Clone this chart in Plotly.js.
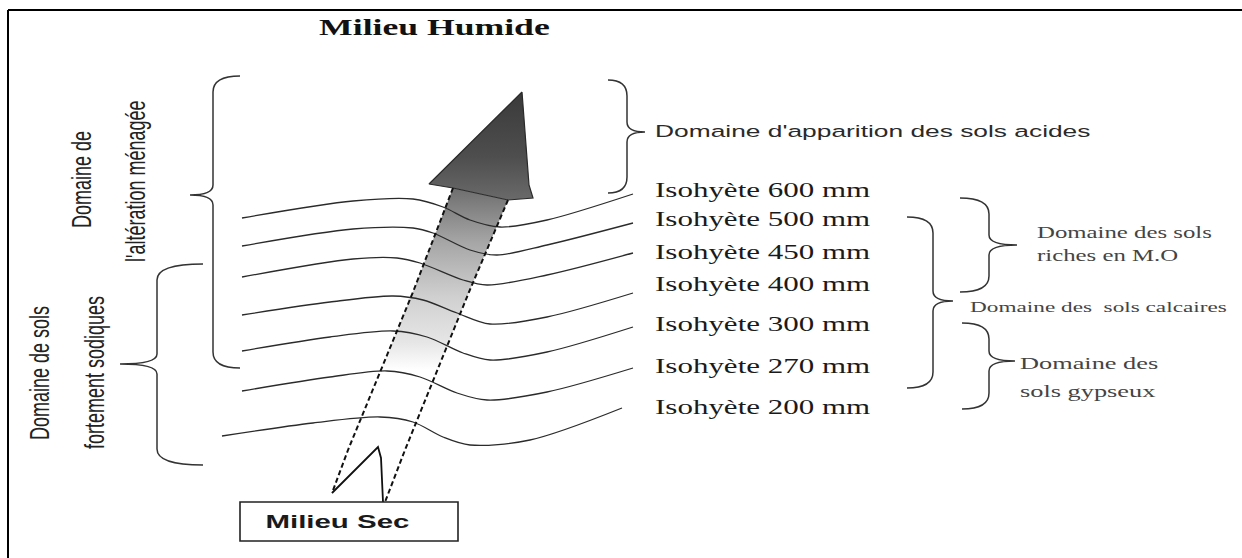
<!DOCTYPE html>
<html>
<head>
<meta charset="utf-8">
<script src="https://cdn.plot.ly/plotly-3.0.1.min.js"></script>
<style>
  html, body { margin: 0; padding: 0; background: #fff; }
  #chart { width: 1242px; height: 558px; }
</style>
</head>
<body>
<div id="chart"></div>
<script>
// ---------------- data ----------------
const isohyetValues = [600, 500, 450, 400, 300, 270, 200];
const isohyetLabels = isohyetValues.map(v => 'Isohyète ' + v + ' mm');
const isohyetLabelY = [190, 219, 252, 284, 324, 366, 407];

// isohyet curves (diagram coordinates)
const curveX = [
  [242, 353, 413, 443, 470, 500, 547, 633],
  [242, 353, 413, 433, 470, 497, 547, 633],
  [242, 353, 397, 420, 463, 487, 547, 633],
  [242, 330, 393, 423, 457, 490, 547, 633],
  [242, 330, 393, 427, 463, 490, 547, 633],
  [242, 330, 387, 420, 457, 487, 547, 633],
  [222, 313, 380, 413, 443, 470, 530, 622]
];
const curveY = [
  [218, 201, 199, 207, 220, 227, 220, 194],
  [246, 229, 228, 233, 250, 255, 245, 223],
  [277, 259, 258, 263, 280, 285, 275, 253],
  [315, 302, 296, 300, 313, 324, 317, 293],
  [351, 337, 331, 337, 353, 360, 352, 327],
  [391, 377, 371, 377, 393, 400, 392, 368],
  [436, 423, 417, 422, 437, 445, 440, 408]
];

// arrow (Milieu Sec -> Milieu Humide)
const headX = [522, 529, 533, 508, 453, 429, 522];
const headY = [92, 185, 198, 200, 188, 184, 92];
const shaftLeftX = [453, 413, 348, 332];
const shaftLeftY = [188, 292, 450, 493];
const shaftRightX = [508, 469, 405, 385];
const shaftRightY = [200, 292, 450, 502];
const breakX = [332, 378, 381, 383];
const breakY = [493, 447, 458, 502];

// braces: [end x, spine x, tip x, top y, tip y, bottom y]
const braceNames = ['altération', 'sodiques', 'acides', 'MO', 'calcaires', 'gypseux'];
const braceEndX = [240, 203, 608, 960, 907, 962];
const braceSpineX = [213, 157, 627, 989, 933, 989];
const braceTipX = [190, 120, 645, 1017, 953, 1015];
const braceTopY = [76, 264, 80, 198, 217, 323];
const braceTipY = [195, 364, 132, 245, 301, 361];
const braceBotY = [368, 465, 193, 292, 388, 409];

// texts
const titleHumide = 'Milieu Humide';
const titleSec = 'Milieu Sec';
const leftTexts = ['Domaine de', "l'altération ménagée", 'Domaine de sols', 'fortement sodiques'];
const acidesText = "Domaine d'apparition des sols acides";
const moTexts = ['Domaine des sols', 'riches en M.O'];
const calcText = 'Domaine des  sols calcaires';
const gypsTexts = ['Domaine des', 'sols gypseux'];

// ---------------- drawing ----------------
const STRETCH = 1.55;
const SANS = 'Liberation Sans, Arial, sans-serif';
const SERIF = 'Liberation Serif, Times New Roman, serif';

const polyShaftX = shaftLeftX.concat(breakX.slice(1), shaftRightX.slice().reverse());
const polyShaftY = shaftLeftY.concat(breakY.slice(1), shaftRightY.slice().reverse());

const traces = [];
traces.push({
  type: 'scatter', mode: 'lines', x: polyShaftX, y: polyShaftY,
  fill: 'toself', line: {width: 0, color: 'rgba(0,0,0,0)'},
  fillgradient: {type: 'vertical', start: 188, stop: 370,
    colorscale: [[0, '#6e6e6e'], [0.3, '#a6a6a6'], [0.6, '#d0d0d0'], [0.85, '#e6e6e6'], [1, '#ffffff']]},
  hoverinfo: 'skip'
});
traces.push({
  type: 'scatter', mode: 'lines', x: headX, y: headY,
  fill: 'toself', line: {width: 1.2, color: '#2a2a2a'},
  fillgradient: {type: 'vertical', start: 92, stop: 200,
    colorscale: [[0, '#3a3a3a'], [0.6, '#4e4e4e'], [1, '#6a6a6a']]},
  hoverinfo: 'skip'
});
for (let i = 0; i < curveX.length; i++) {
  traces.push({
    type: 'scatter', mode: 'lines', x: curveX[i], y: curveY[i],
    name: isohyetLabels[i],
    line: {shape: 'spline', smoothing: 0.9, width: 1.3, color: '#2b2b2b'},
    hoverinfo: 'skip'
  });
}
traces.push({type: 'scatter', mode: 'lines', x: shaftLeftX, y: shaftLeftY,
  line: {width: 2, color: '#111', dash: '5px,3px'}, hoverinfo: 'skip'});
traces.push({type: 'scatter', mode: 'lines', x: shaftRightX, y: shaftRightY,
  line: {width: 2, color: '#111', dash: '5px,3px'}, hoverinfo: 'skip'});
traces.push({type: 'scatter', mode: 'lines', x: breakX, y: breakY,
  line: {width: 1.8, color: '#111'}, hoverinfo: 'skip'});

function bracePath(xe, xv, xt, yt, ym, yb) {
  const rc = 16, rt = 10;
  return 'M' + xe + ',' + yt + ' Q' + xv + ',' + yt + ' ' + xv + ',' + (yt + rc) +
    ' L' + xv + ',' + (ym - rt) + ' Q' + xv + ',' + ym + ' ' + xt + ',' + ym +
    ' Q' + xv + ',' + ym + ' ' + xv + ',' + (ym + rt) +
    ' L' + xv + ',' + (yb - rc) + ' Q' + xv + ',' + yb + ' ' + xe + ',' + yb;
}

const shapes = [];
for (let i = 0; i < braceNames.length; i++) {
  shapes.push({type: 'path', xref: 'x', yref: 'y',
    path: bracePath(braceEndX[i], braceSpineX[i], braceTipX[i], braceTopY[i], braceTipY[i], braceBotY[i]),
    line: {color: '#333', width: 1.5}});
}
// Milieu Sec box
shapes.push({type: 'rect', xref: 'x', yref: 'y', x0: 240, x1: 458, y0: 502, y1: 541,
  line: {color: '#222', width: 1.6}, fillcolor: '#fff', layer: 'above'});
// frame lines
shapes.push({type: 'line', xref: 'x', yref: 'y', x0: 8, x1: 1242, y0: 10, y1: 10, line: {color: '#000', width: 2}});
shapes.push({type: 'line', xref: 'x', yref: 'y', x0: 8, x1: 8, y0: 10, y1: 558, line: {color: '#000', width: 2}});

const annotations = [];
function addText(text, x, y, opts) {
  annotations.push(Object.assign({
    text: text, x: x, y: y, xref: 'x', yref: 'y', showarrow: false,
    xanchor: 'center', yanchor: 'middle'
  }, opts));
}
addText(titleHumide, 434, 27, {font: {family: SERIF, size: 23, color: '#111', weight: 'bold'}});
addText(titleSec, 337, 521, {font: {family: SANS, size: 19, color: '#1a1a1a', weight: 'bold'}});
addText(leftTexts[0], 82, 180, {textangle: -90, font: {family: SANS, size: 18, color: '#222'}});
addText(leftTexts[1], 136, 181, {textangle: -90, font: {family: SANS, size: 18, color: '#222'}});
addText(leftTexts[2], 40, 373, {textangle: -90, font: {family: SANS, size: 18, color: '#222'}});
addText(leftTexts[3], 95, 373, {textangle: -90, font: {family: SANS, size: 18, color: '#222'}});
addText(acidesText, 653, 131, {xanchor: 'left', font: {family: SANS, size: 17, color: '#2a2a2a'}});
for (let i = 0; i < isohyetLabels.length; i++) {
  addText(isohyetLabels[i], 653, isohyetLabelY[i], {xanchor: 'left', font: {family: SERIF, size: 20, color: '#1a1a1a'}});
}
addText(moTexts[0], 1035, 232, {xanchor: 'left', font: {family: SERIF, size: 16, color: '#444'}});
addText(moTexts[1], 1035, 255, {xanchor: 'left', font: {family: SERIF, size: 16, color: '#444'}});
addText(calcText, 968, 307, {xanchor: 'left', font: {family: SERIF, size: 15, color: '#444'}});
addText(gypsTexts[0], 1018, 363, {xanchor: 'left', font: {family: SERIF, size: 17, color: '#444'}});
addText(gypsTexts[1], 1018, 391, {xanchor: 'left', font: {family: SERIF, size: 17, color: '#444'}});

const layout = {
  width: 1242, height: 558,
  margin: {l: 0, r: 0, t: 0, b: 0, pad: 0},
  paper_bgcolor: '#fff', plot_bgcolor: '#fff',
  showlegend: false,
  xaxis: {range: [0, 1242], visible: false, fixedrange: true},
  yaxis: {range: [558, 0], visible: false, fixedrange: true},
  shapes: shapes,
  annotations: annotations
};

function stretchTexts() {
  document.querySelectorAll('g.annotation').forEach(g => {
    const idx = +g.getAttribute('data-index');
    const a = annotations[idx];
    const t = g.querySelector('text.annotation-text');
    if (!a || !t) return;
    t.style.transformBox = 'fill-box';
    t.style.transformOrigin = a.xanchor === 'left' ? '0% 50%' : '50% 50%';
    t.style.transform = a.textangle ? 'scaleY(' + STRETCH + ')' : 'scaleX(' + STRETCH + ')';
  });
}

Plotly.newPlot('chart', traces, layout, {staticPlot: true, displayModeBar: false}).then(stretchTexts);
</script>
</body>
</html>
